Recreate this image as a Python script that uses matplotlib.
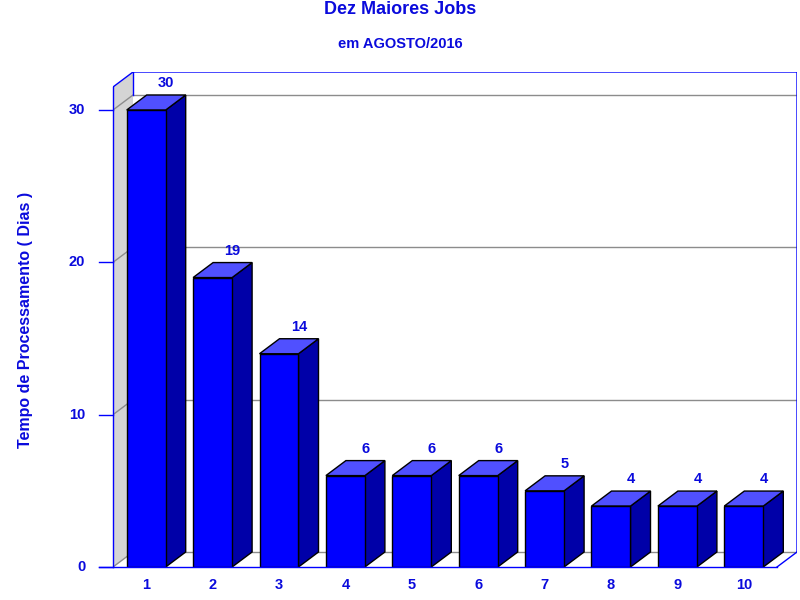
import matplotlib
matplotlib.use("Agg")
import matplotlib.pyplot as plt
from matplotlib.patches import Polygon

categories = ["1", "2", "3", "4", "5", "6", "7", "8", "9", "10"]
values = [30, 19, 14, 6, 6, 6, 5, 4, 4, 4]
yticks = [0, 10, 20, 30]

title = "Dez Maiores Jobs"
subtitle = "em AGOSTO/2016"
ylabel = "Tempo de Processamento ( Dias )"

BLUE = "#0000FF"
TXT = "#0a0adc"
FRONT = "#0000FF"
SIDE = "#0000A8"
TOP = "#5050FF"
WALL = "#d4d4d4"
GRID = "#8c8c8c"

plt.rcParams['font.family'] = ['Liberation Sans', 'DejaVu Sans']

fig = plt.figure(figsize=(8, 6), dpi=100)
ax = fig.add_axes([113 / 800, 1 - 567 / 600, (797 - 113) / 800, (567 - 72) / 600])
n = len(categories)
px_x = 66.4
px_y = (567 - 110) / 30.0
dx = 20 / px_x
dy = 15 / px_y
x0, x1 = 0.5, n + 0.5
ytop = (567 - 72) / px_y
ax.set_xlim(x0, x1 + dx)
ax.set_ylim(0, ytop)
ax.axis("off")

# left wall
ax.add_patch(Polygon([(x0, 0), (x0 + dx, dy), (x0 + dx, ytop), (x0, ytop - dy)],
                     closed=True, facecolor=WALL, edgecolor="none", zorder=1))
# gridlines on back wall and left wall
for t in yticks:
    ax.plot([x0 + dx, x1 + dx], [t + dy, t + dy], color=GRID, lw=1, zorder=2)
    ax.plot([x0, x0 + dx], [t, t + dy], color=GRID, lw=1, zorder=2)
# frame lines
ax.plot([x0, x0 + dx, x1 + dx, x1 + dx], [ytop - dy, ytop, ytop, dy], color=BLUE, lw=1, zorder=3)
ax.plot([x0 + dx, x0 + dx], [yticks[-1] + dy, ytop], color=BLUE, lw=1, zorder=3)
ax.plot([x1, x1 + dx], [0, dy], color=BLUE, lw=1, zorder=3)

# bars
w = 39 / px_x
for i, v in enumerate(values):
    c = i + 1
    l, r = c - w / 2, c + w / 2
    ax.add_patch(Polygon([(r, 0), (r + dx, dy), (r + dx, v + dy), (r, v)], closed=True,
                         facecolor=SIDE, edgecolor="black", lw=1, zorder=5))
    ax.add_patch(Polygon([(l, v), (l + dx, v + dy), (r + dx, v + dy), (r, v)], closed=True,
                         facecolor=TOP, edgecolor="black", lw=1, zorder=5))
    ax.add_patch(Polygon([(l, 0), (r, 0), (r, v), (l, v)], closed=True,
                         facecolor=FRONT, edgecolor="black", lw=1, zorder=6))
    ax.annotate(str(v), (c + dx, v + dy), xytext=(0, 8.5), textcoords="offset points",
                ha="center", va="center", color=TXT, fontsize=10.5, fontweight="bold",
                zorder=7, annotation_clip=False)
    ax.annotate(categories[i], (c, 0), xytext=(0, -13), textcoords="offset points",
                ha="center", va="center", color=TXT, fontsize=10.5, fontweight="bold",
                annotation_clip=False)

# front axes
tick_len = 14 / px_x
ax.plot([x0 - tick_len, x1], [0, 0], color=BLUE, lw=1, zorder=8, clip_on=False)
ax.plot([x0, x0], [0, ytop - dy], color=BLUE, lw=1, zorder=8, clip_on=False)
for t in yticks:
    ax.plot([x0 - tick_len, x0], [t, t], color=BLUE, lw=1, zorder=8, clip_on=False)
    ax.annotate(str(t), (x0, t), xytext=(-20, 0), textcoords="offset points",
                ha="right", va="center", color=TXT, fontsize=10.5, fontweight="bold",
                annotation_clip=False)

fig.text(0.5, 1 - 9 / 600, title, ha="center", va="center", color=TXT,
         fontsize=13, fontweight="bold")
fig.text(0.5, 1 - 43.5 / 600, subtitle, ha="center", va="center", color=TXT,
         fontsize=10.5, fontweight="bold")
fig.text(26 / 800, 1 - 320 / 600, ylabel, ha="center", va="center", rotation=90,
         color=TXT, fontsize=11.5, fontweight="bold")

fig.savefig("out.png", dpi=100)
